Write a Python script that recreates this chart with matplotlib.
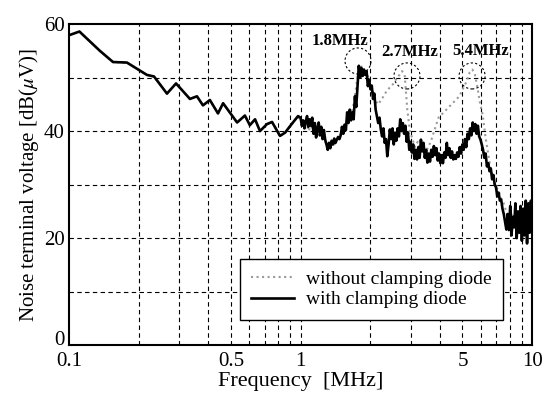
import numpy as np
import matplotlib.pyplot as plt
from matplotlib.patches import Circle
from matplotlib.transforms import ScaledTranslation

plt.rcParams['font.family'] = ['Liberation Serif', 'DejaVu Serif']
plt.rcParams['mathtext.fontset'] = 'stix'

# --- low-frequency part (0.1 - 1 MHz), both curves overlap here ---
low_freq = [0.100, 0.111, 0.136, 0.155, 0.178, 0.217, 0.233, 0.265, 0.290, 0.333,
            0.357, 0.379, 0.406, 0.440, 0.463, 0.532, 0.575, 0.604, 0.636, 0.668,
            0.716, 0.753, 0.800, 0.815, 0.857, 0.900, 0.975]
low_db = [57.9, 58.6, 55.0, 52.9, 52.8, 50.5, 50.2, 47.0, 48.9, 46.0,
          46.5, 44.8, 45.8, 43.3, 45.2, 41.6, 42.9, 41.1, 42.2, 40.0,
          41.3, 41.7, 39.7, 39.1, 39.7, 40.9, 42.8]

# --- 1 - 10 MHz, with clamping diode (sweep points) ---
with_db = [
    42.5, 41.0, 42.0, 40.5, 41.8, 42.8, 40.8, 42.2, 41.0, 42.5,
    39.5, 41.5, 38.8, 40.5, 41.6, 39.2, 40.8, 38.5, 40.2, 38.4,
    37.5, 36.5, 37.8, 36.8, 38.2, 37.5, 38.6, 37.8, 38.4, 38.9,
    38.5, 39.2, 40.8, 39.5, 41.2, 40.2, 43.5, 41.5, 44.0, 42.0,
    43.5, 42.2, 46.5, 44.5, 48.5, 52.2, 50.0, 51.8, 50.3, 51.5,
    50.5, 51.2, 48.4, 49.5, 47.8, 48.5, 46.0, 47.0, 44.0, 42.8,
    41.5, 42.5, 40.3, 39.0, 40.5, 37.8, 38.5, 35.3, 37.5, 40.3,
    38.5, 40.5, 37.5, 39.7, 38.2, 40.5, 39.0, 42.2, 40.0, 41.5,
    39.5, 41.0, 38.0, 39.7, 36.5, 38.0, 36.0, 37.5, 34.8, 36.5,
    34.7, 37.0, 35.0, 38.4, 36.2, 37.8, 35.0, 36.5, 34.1, 35.8,
    34.3, 36.5, 35.2, 37.2, 35.5, 36.8, 34.5, 35.8, 34.0, 35.5,
    34.0, 36.0, 35.0, 37.8, 35.5, 36.8, 35.0, 36.2, 34.7, 35.5,
    34.8, 36.0, 35.2, 37.0, 35.8, 37.5, 36.5, 38.5, 37.0, 39.5,
    38.5, 40.5, 39.2, 41.6, 40.0, 41.3, 39.5, 41.0, 39.0, 38.4,
    37.5, 36.5, 35.0, 35.8, 33.4, 34.0, 32.5, 33.0, 31.0, 31.8,
    30.0, 29.5, 27.8, 28.5, 27.0, 27.2, 25.5, 24.5, 23.0, 21.6,
    24.5, 21.5, 26.0, 20.5, 24.0, 22.0, 26.5, 20.0, 25.0, 21.0,
    26.0, 19.5, 25.5, 20.5, 27.0, 19.0, 26.5, 21.0, 27.0, 24.7,
]

# --- 1 - 10 MHz, without clamping diode ---
without_db = [
    42.0, 41.0, 42.0, 40.0, 41.0, 39.5, 41.0, 39.0, 40.0, 38.5,
    37.5, 37.0, 38.0, 37.5, 38.5, 39.0, 40.0, 40.5, 42.5, 43.5,
    44.0, 47.0, 50.5, 52.5, 51.0, 51.5, 50.0, 48.5, 47.0, 45.5,
    45.0, 46.0, 46.5, 47.5, 48.0, 48.5, 49.0, 50.0, 50.5, 51.2,
    50.5, 44.0, 40.0, 38.5, 37.0, 38.0, 36.5, 37.5, 36.0, 37.0,
    38.0, 39.5, 41.0, 42.5, 43.0, 43.5, 44.0, 44.5, 45.0, 45.5,
    46.0, 46.5, 47.5, 48.5, 49.5, 51.0, 51.5, 50.5, 48.0, 45.0,
    43.0, 39.0, 36.0, 33.0, 31.0, 29.5, 29.0, 27.5, 26.5, 25.0,
    23.0, 24.5, 22.0, 25.0, 21.0, 24.5, 21.5, 25.0, 22.0, 24.0,
]

# measurement sweep grid, 1 - 10 MHz
with_freq = np.geomspace(1.0, 10.0, len(with_db))
without_freq = np.geomspace(1.0, 10.0, len(without_db))

peak_labels = ['1.8MHz', '2.7MHz', '5.4MHz']
peak_freq = [1.77, 2.88, 5.5]
peak_db = [53.1, 50.3, 50.3]
label_freq = [1.48, 2.96, 5.99]
label_db = [56.8, 54.8, 54.9]

fig = plt.figure(figsize=(5.47, 3.94), dpi=100)
ax = fig.add_axes([0.126, 0.124, 0.847, 0.815])

ax.plot(low_freq + list(without_freq), low_db + without_db, ':', color='#9a9a9a',
        lw=1.5, label='without clamping diode', zorder=2)
ax.plot(low_freq + list(with_freq), low_db + with_db, '-', color='black',
        lw=1.9, label='with clamping diode', zorder=3)

ax.set_xscale('log')
ax.set_xlim(0.1, 10)
ax.set_ylim(0, 60)

# dashed grid
for f in [0.2, 0.3, 0.4, 0.5, 0.6, 0.7, 0.8, 0.9, 1, 2, 3, 4, 5, 6, 7, 8, 9]:
    ax.axvline(f, color='black', ls=(0, (4, 3)), lw=0.8, zorder=1)
for v in [10, 20, 30, 40, 50]:
    ax.axhline(v, color='black', ls=(0, (4, 3)), lw=0.8, zorder=1)

ax.set_xticks([0.1, 0.5, 1, 5, 10])
ax.set_xticklabels(['0.1', '0.5', '1', '5', '10'])
ax.set_xticks([], minor=True)
ax.set_yticks([0, 20, 40, 60])
ax.tick_params(length=0, labelsize=15)
ax.tick_params(axis='x', pad=5)
ax.tick_params(axis='y', pad=3)
ax.yaxis.get_major_ticks()[0].label1.set_verticalalignment('baseline')
for s in ax.spines.values():
    s.set_linewidth(1.5)

ax.set_xlabel('Frequency  [MHz]', fontsize=16, labelpad=1)
ax.set_ylabel(r'Noise terminal voltage [dB($\mu$V)]', fontsize=15, labelpad=2)

for lab, fx, fy, px, py in zip(peak_labels, label_freq, label_db, peak_freq, peak_db):
    ax.text(fx, fy, lab, ha='center', va='center', fontsize=12, fontweight='bold')
    tr = fig.dpi_scale_trans + ScaledTranslation(px, py, ax.transData)
    ax.add_patch(Circle((0, 0), 0.13, transform=tr, fill=False, ls=(0, (2, 2)),
                        lw=0.8, color='black', zorder=4))

leg = ax.legend(loc='lower right', bbox_to_anchor=(0.937, 0.078), fontsize=14,
                frameon=True, fancybox=False, framealpha=1, edgecolor='black',
                handlelength=2.2, handletextpad=0.6, borderpad=0.6,
                labelspacing=0.15, borderaxespad=0)
leg.get_frame().set_linewidth(1.0)

fig.savefig('out.png', dpi=100)
